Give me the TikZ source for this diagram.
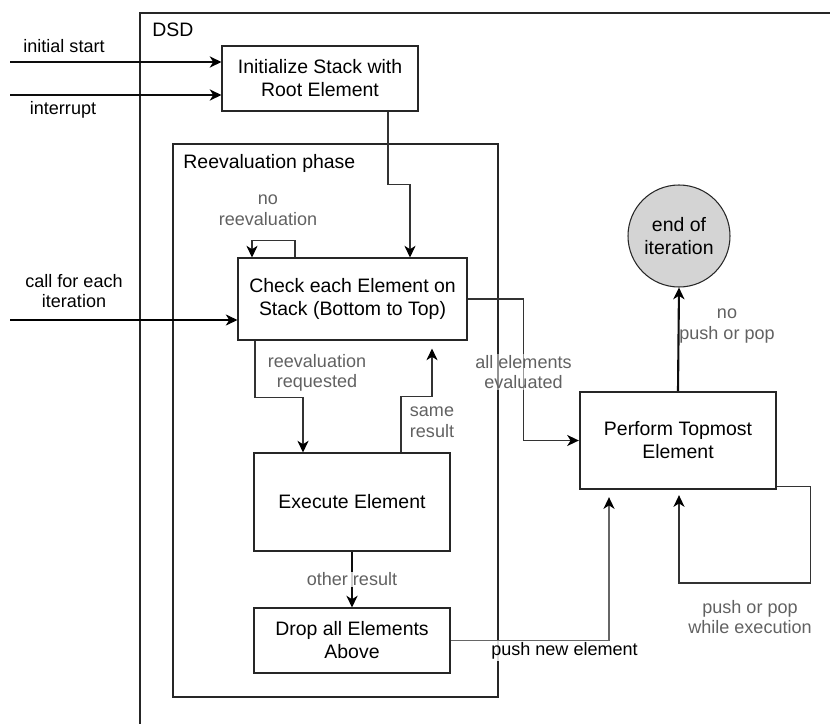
\documentclass[tikz,border=0pt]{standalone}
\usepackage{fontspec}
\setmainfont{Liberation Sans}
\usetikzlibrary{arrows.meta, positioning, calc}

\begin{document}
\begin{tikzpicture}[x=0.03cm, y=-0.03cm,
  box/.style={draw=black!85, line width=0.9pt, inner sep=0pt, align=center, font=\fontsize{16.6}{19.6}\selectfont},
  txt/.style={inner sep=1pt, align=center, font=\fontsize{15.4}{17.6}\selectfont},
  lbl/.style={txt, text=black!62},
  elbl/.style={lbl, fill=white, fill opacity=0.8, text opacity=1},
  frame/.style={draw=black!85, line width=0.9pt},
  line/.style={draw=black!80, line width=0.9pt, -{Stealth[length=10pt, width=9.5pt, inset=3pt, color=black]}},
  bold/.style={line, draw=black!95, line width=1.6pt}]
\useasboundingbox (0,0) rectangle (830,724);
\clip (0,0) rectangle (830,724);
\draw[frame] (140,13) rectangle (900,800);
\draw[frame] (173,144) rectangle (498,697);
\node (dsd) at (151,30) [anchor=west, inner sep=1pt, font=\fontsize{16.6}{19.6}\selectfont] {DSD};
\node (phase) at (182,163) [anchor=west, inner sep=1pt, font=\fontsize{16.6}{19.6}\selectfont] {Reevaluation phase};

\node (init) at (320, 78.5) [box, minimum width=5.88cm, minimum height=1.95cm] {Initialize Stack with\\Root Element};
\node (check) at (352.5, 299) [box, minimum width=6.87cm, minimum height=2.46cm] {Check each Element on\\Stack (Bottom to Top)};
\node (exec) at (352, 502) [box, minimum width=5.88cm, minimum height=2.94cm] {Execute Element};
\node (drop) at (352, 640.5) [box, minimum width=5.88cm, minimum height=1.95cm] {Drop all Elements\\Above};
\node (perform) at (678, 440.5) [box, line width=2pt, minimum width=5.88cm, minimum height=2.91cm] {Perform Topmost\\Element};
\node (endit) at (679, 236) [box, circle, fill=black!17, minimum size=3.06cm] {end of\\iteration};

\coordinate (s1) at (10, 62);
\coordinate (s2) at (10, 95);
\coordinate (s3) at (10, 320);
\draw[bold] (s1) -- (s1 -| init.west);
\draw[bold] (s2) -- (s2 -| init.west);
\draw[line, draw=black] (s3) -- (s3 -| check.west);

\draw[line] ($(init.south)+(68,0)$) -- ++(0,73) -| ($(check.north)+(57.5,0)$);
\draw[line] ($(check.north)+(-57.5,0)$) -- ++(0,-17) -| ($(check.north)+(-100.5,0)$);
\draw[line, line width=1.2pt] ($(check.south)+(-97.5,0)$) -- ++(0,57) -| ($(exec.north)+(-49,0)$);
\draw[line] ($(exec.north)+(49,0)$) -- ++(0,-56) -| ($(check.south)+(79.5,8)$);
\draw[bold, line width=1.4pt] (exec.south) -- (drop.north);
\draw[line] (check.east) -- ++(56,0) |- (perform.west);
\draw[line, draw=black!60, line width=1.2pt] (drop.east) -| ($(perform.south)+(-69,7)$);
\draw[bold, line width=1.8pt] (perform.north) -- (endit.south);
\draw[line] ($(perform.east)+(0,46)$) -- ++(33,0) -- ++(0,96.5) -| ($(perform.south)+(1,5)$);

\node (l1) at (64, 46) [txt] {initial start};
\node (l2) at (63, 110) [txt] {interrupt};
\node (l3) at (74, 291) [txt] {call for each\\iteration};
\node (l4) at (268, 210) [lbl] {no\\reevaluation};
\node (l5) at (317, 373) [lbl] {reevaluation\\requested};
\node (l6) at (432, 422) [lbl] {same\\result};
\node (l7) at (352, 579.5) [elbl] {other result};
\node (l8) at (523.5, 372) [elbl, fill opacity=0.5] {all elements\\evaluated};
\node (l9) at (564.5, 651) [txt, fill=white, fill opacity=0.85, text opacity=1] {push new element};
\node (l10) at (727, 326) [lbl] {no\\push or pop};
\node (l11) at (750, 617) [lbl] {push or pop\\while execution};
\end{tikzpicture}
\end{document}
